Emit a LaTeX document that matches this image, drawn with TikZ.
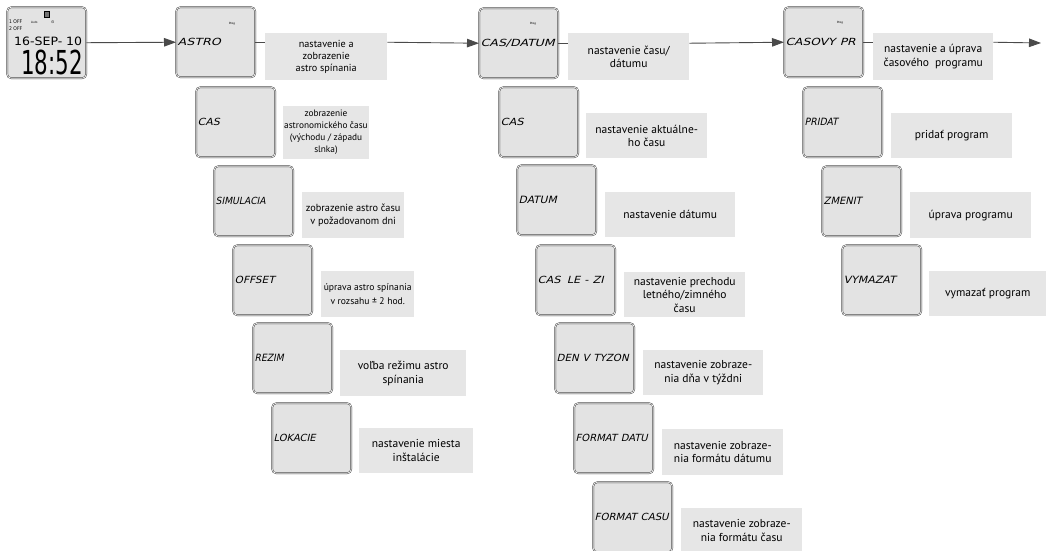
\documentclass[tikz,border=0pt]{standalone}
\usepackage{fontspec}
\setmainfont{PT Sans}
\newfontfamily\lcdfont[FakeSlant=0.2]{DejaVu Sans Condensed}
\newfontfamily\lcdup{DejaVu Sans Condensed}
\newfontfamily\symfont{DejaVu Sans}
\usetikzlibrary{arrows.meta}
\definecolor{boxfill}{HTML}{E3E3E3}
\definecolor{labfill}{HTML}{E6E6E6}
\definecolor{linec}{HTML}{4A4A4A}
\definecolor{boxline}{HTML}{3A3A3A}
\newcommand{\lcdt}[2]{\resizebox{#1}{7.3pt}{\lcdfont #2}}
\tikzset{
  menubox/.style={draw=boxline, line width=0.45pt, double=white!85!boxfill, double distance=0.7pt,
    fill=boxfill, rounded corners=4pt, minimum width=78.5pt, minimum height=70pt,
    text width=76pt, inner sep=1.5pt, align=left, anchor=north west},
  desc/.style={fill=labfill, anchor=north west, inner sep=1pt, align=center,
    font=\fontsize{11.5}{13.5}\selectfont},
  prog/.style={font=\bfseries\fontsize{3}{3}\selectfont, inner sep=0pt, text=black!80},
  flow/.style={draw=linec, line width=0.9pt},
  arr/.style={flow, -{Triangle[length=12pt,width=8.5pt]}},
  lcdsmall/.style={inner sep=0pt, anchor=west, font=\lcdup\fontsize{5}{5}\selectfont},
}
\begin{document}
\begin{tikzpicture}[x=1pt,y=-1pt]
\useasboundingbox (0,0) rectangle (1046,551);

% start display
\node[menubox, minimum height=71pt] (lcd) at (7,7) {};
\node[draw=black, fill=black!55, line width=0.4pt, minimum width=5pt, minimum height=6pt, inner sep=0pt] (lcdicon) at (47,14) {};
\node[lcdsmall] (lcdoff1) at (9,22) {1 OFF};
\node[lcdsmall, font=\lcdup\fontsize{3}{3}\selectfont] (lcdauto) at (31,22.5) {Auto};
\node[lcdsmall, font=\symfont\fontsize{4}{4}\selectfont] (lcdsun) at (51,22.5) {⊙};
\node[lcdsmall] (lcdoff2) at (9,29) {2 OFF};
\node[inner sep=0pt, anchor=west] (lcddate) at (14,41.5) {\resizebox{68pt}{8.5pt}{\lcdup 16-SEP- 10}};
\node[inner sep=0pt, anchor=west] (lcdtime) at (21,62) {\scalebox{0.72}[1]{\lcdup\fontsize{33}{33}\selectfont 18:52}};

% ASTRO column
\node[menubox] (astro) at (176,7) {\lcdt{43pt}{ASTRO}};
\node[prog] (astroprog) at ([xshift=56pt,yshift=-17pt]astro.north west) {Prog};
\node[desc, minimum width=122pt, minimum height=47pt, font=\fontsize{10.2}{12.2}\selectfont] (lastro) at (265,33) {nastavenie a\\zobrazenie\\astro spínania};

\node[menubox] (cas1) at (196,87) {\lcdt{22pt}{CAS}};
\node[desc, minimum width=83pt, minimum height=53pt, font=\fontsize{9.3}{12}\selectfont] (lcas1) at (283,106) {zobrazenie\\astronomického času\\(východu / západu\\slnka)};

\node[menubox] (sim) at (214,166) {\lcdt{50pt}{SIMULACIA}};
\node[desc, minimum width=102pt, minimum height=46pt, font=\fontsize{10.3}{13.5}\selectfont] (lsim) at (302,192) {zobrazenie astro času\\v požadovanom dni};

\node[menubox] (off) at (233,245) {\lcdt{40pt}{OFFSET}};
\node[desc, minimum width=93pt, minimum height=46pt, font=\fontsize{9.6}{13.5}\selectfont] (loff) at (321,271) {úprava astro spínania\\v rozsahu ± 2 hod.};

\node[menubox] (rez) at (253,323) {\lcdt{29pt}{REZIM}};
\node[desc, minimum width=126pt, minimum height=46pt] (lrez) at (340,350) {voľba režimu astro\\spínania};

\node[menubox] (lok) at (272,403) {\lcdt{42pt}{LOKACIE}};
\node[desc, minimum width=114pt, minimum height=45pt] (llok) at (359,428) {nastavenie miesta\\inštalácie};

% CAS/DATUM column
\node[menubox] (casdat) at (479,8) {\lcdt{74pt}{CAS/DATUM}};
\node[prog] (casdatprog) at ([xshift=54pt,yshift=-16pt]casdat.north west) {Prog};
\node[desc, minimum width=121pt, minimum height=47pt] (lcasdat) at (568,33) {nastavenie času/\\dátumu};

\node[menubox] (cas2) at (499,87) {\lcdt{23pt}{CAS}};
\node[desc, minimum width=121pt, minimum height=45pt] (lcas2) at (586,113) {nastavenie aktuálne-\\ho času};

\node[menubox] (dat) at (517,165) {\lcdt{38pt}{DATUM}};
\node[desc, minimum width=130pt, minimum height=45pt] (ldat) at (605,192) {nastavenie dátumu};

\node[menubox] (casle) at (536,245) {\lcdt{66pt}{CAS\hspace{0.5em}LE - ZI}};
\node[desc, minimum width=121pt, minimum height=45pt] (lcasle) at (624,272) {nastavenie prechodu\\letného/zimného\\času};

\node[menubox] (den) at (555,323) {\lcdt{72pt}{DEN V TYZON}};
\node[desc, minimum width=120pt, minimum height=45pt] (lden) at (643,350) {nastavenie zobraze-\\nia dňa v týždni};

\node[menubox] (fdat) at (574,403) {\lcdt{72pt}{FORMAT DATU}};
\node[desc, minimum width=121pt, minimum height=46pt] (lfdat) at (662,429) {nastavenie zobraze-\\nia formátu dátumu};

\node[menubox] (fcas) at (593,482) {\lcdt{74pt}{FORMAT CASU}};
\node[desc, minimum width=121pt, minimum height=45pt] (lfcas) at (681,508) {nastavenie zobraze-\\nia formátu času};

% CASOVY PR column
\node[menubox] (casovy) at (784,7) {\lcdt{70pt}{CASOVY PR}};
\node[prog] (casovyprog) at ([xshift=56pt,yshift=-16pt]casovy.north west) {Prog};
\node[desc, minimum width=120pt, minimum height=47pt] (lcasovy) at (873,33) {nastavenie a úprava\\časového\ \ programu};

\node[menubox] (pri) at (803,87) {\lcdt{33pt}{PRIDAT}};
\node[desc, minimum width=121pt, minimum height=45pt] (lpri) at (891,113) {pridať program};

\node[menubox] (zme) at (822,166) {\lcdt{38pt}{ZMENIT}};
\node[desc, minimum width=121pt, minimum height=46pt] (lzme) at (910,192) {úprava programu};

\node[menubox] (vym) at (842,245) {\lcdt{52pt}{VYMAZAT}};
\node[desc, minimum width=117pt, minimum height=45pt] (lvym) at (929,271) {vymazať program};

% connectors
\coordinate (endpt) at (1041,43);
\draw[arr] (lcd.east) -- (astro.west);
\draw[flow] (astro.east) -- (astro.east -| lastro.west);
\draw[arr] (lastro.east |- astro.east) -- (casdat.west);
\draw[flow] (casdat.east) -- (casdat.east -| lcasdat.west);
\draw[arr] (lcasdat.east |- casdat.east) -- (casovy.west);
\draw[flow] (casovy.east) -- (casovy.east -| lcasovy.west);
\draw[arr] (lcasovy.east |- casovy.east) -- (endpt);
\end{tikzpicture}
\end{document}
